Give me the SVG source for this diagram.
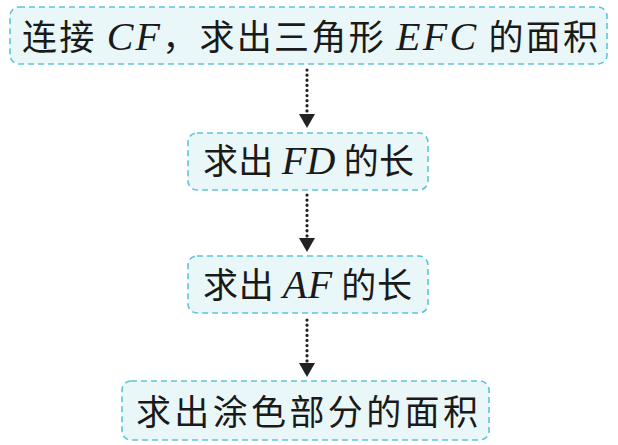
<svg xmlns="http://www.w3.org/2000/svg" width="618" height="445" viewBox="0 0 618 445">
<style>
.box{fill:#eaf7f9;stroke:#5ec5d6;stroke-width:1.6;stroke-dasharray:6 4}
.t{font-family:"Noto Sans CJK SC","Noto Sans",sans-serif;font-size:35px;fill:#1a1a1a}
.m{font-family:"Liberation Serif",serif;font-style:italic;font-size:40px}
.c{stroke:#222;stroke-width:3.2;stroke-dasharray:0.1 5;stroke-linecap:round;fill:none}
</style>
<rect width="618" height="445" fill="#fff"/>
<g id="connectors">
<line class="c" x1="307" y1="70" x2="307" y2="116"/>
<path d="M299,114 L315,114 L307,128 Z" fill="#222"/>
<line class="c" x1="307" y1="195" x2="307" y2="240"/>
<path d="M299,238 L315,238 L307,252 Z" fill="#222"/>
<line class="c" x1="307" y1="320" x2="307" y2="365"/>
<path d="M299,363 L315,363 L307,377 Z" fill="#222"/>
</g>
<g id="n1">
<rect class="box" x="10" y="7" width="597" height="57" rx="9"/>
<text class="t" x="22" y="50" textLength="576" lengthAdjust="spacing">连接 <tspan class="m">CF</tspan>，求出三角形 <tspan class="m">EFC</tspan> 的面积</text>
</g>
<g id="n2">
<rect class="box" x="188" y="133" width="240" height="57" rx="9"/>
<text class="t" x="203" y="174" textLength="211" lengthAdjust="spacing">求出 <tspan class="m">FD</tspan> 的长</text>
</g>
<g id="n3">
<rect class="box" x="188" y="256" width="240" height="57" rx="9"/>
<text class="t" x="203" y="298" textLength="209" lengthAdjust="spacing">求出 <tspan class="m">AF</tspan> 的长</text>
</g>
<g id="n4">
<rect class="box" x="122" y="381" width="367" height="59" rx="9"/>
<text class="t" x="136" y="425" textLength="342" lengthAdjust="spacing">求出涂色部分的面积</text>
</g>
</svg>
